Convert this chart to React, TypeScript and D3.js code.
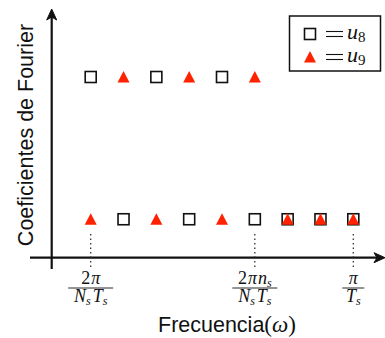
import * as d3 from "d3";

// Frequency index k (multiples of 2π/(N_s T_s))
const freqs = [1, 2, 3, 4, 5, 6, 7, 8, 9];
// Fourier coefficient magnitudes (arbitrary units)
const u8Values = [4.7, 1, 4.7, 1, 4.7, 1, 1, 1, 1];
const u9Values = [1, 4.7, 1, 4.7, 1, 4.7, 1, 1, 1];
// Ticks marked with dotted guides
const tickFreqs = [1, 6, 9];

const W = 385;
const H = 338;
const RED = "#ff2200";
const MATH = "'Liberation Serif', 'DejaVu Serif', serif";
const SANS = "'Liberation Sans', Arial, sans-serif";

function Square({ x, y, s = 11 }: { x: number; y: number; s?: number }) {
  return (
    <rect x={x - s / 2} y={y - s / 2} width={s} height={s} fill="white" stroke="#111" strokeWidth={1.6} />
  );
}

function Triangle({ x, y, s = 12 }: { x: number; y: number; s?: number }) {
  const h = s * 0.92;
  const pts = [
    [x, y - h / 2 - 0.5],
    [x + s / 2, y + h / 2],
    [x - s / 2, y + h / 2],
  ];
  return <polygon points={pts.map((p) => p.join(",")).join(" ")} fill={RED} />;
}

function TickLabel({ x, k }: { x: number; k: number }) {
  const fs = 18;
  const sub = 12;
  const num =
    k === 1 ? (
      <>
        <tspan fontStyle="normal">2</tspan>
        <tspan dx={1}>π</tspan>
      </>
    ) : k === 6 ? (
      <>
        <tspan fontStyle="normal">2</tspan>
        <tspan dx={1}>π</tspan>
        <tspan dx={1}>n</tspan>
        <tspan fontSize={sub} dy={3}>s</tspan>
      </>
    ) : (
      <tspan>π</tspan>
    );
  const den =
    k === 9 ? (
      <>
        <tspan>T</tspan>
        <tspan fontSize={sub} dy={3}>s</tspan>
      </>
    ) : (
      <>
        <tspan>N</tspan>
        <tspan fontSize={sub} dy={3}>s</tspan>
        <tspan dx={2} dy={-3}>T</tspan>
        <tspan fontSize={sub} dy={3}>s</tspan>
      </>
    );
  const half = k === 9 ? 11 : 22.5;
  return (
    <g fontFamily={MATH} fontStyle="italic" fontSize={fs} fill="#111">
      <text x={x} y={284} textAnchor="middle">{num}</text>
      <line x1={x - half} x2={x + half} y1={288} y2={288} stroke="#111" strokeWidth={0.9} />
      <text x={x} y={302} textAnchor="middle">{den}</text>
    </g>
  );
}

function LegendEq({ y, label }: { y: number; label: string }) {
  return (
    <g fill="#111">
      <line x1={326} x2={343} y1={y - 2.5} y2={y - 2.5} stroke="#111" strokeWidth={1.1} />
      <line x1={326} x2={343} y1={y + 2.5} y2={y + 2.5} stroke="#111" strokeWidth={1.1} />
      <text x={347} y={y + 5} fontFamily={MATH} fontSize={22}>
        <tspan fontStyle="italic">u</tspan>
        <tspan fontSize={15} dy={3}>{label}</tspan>
      </text>
    </g>
  );
}

export default function App() {
  const x = d3.scaleLinear().domain([1, 9]).range([90.7, 353.3]);
  const y = d3.scaleLinear().domain([0, 4.7]).range([257.7, 77]);

  const axisX = 51.7;
  const axisY = y(0);

  return (
    <div style={{ position: "fixed", left: 0, top: 0 }}>
      <svg width={W} height={H} style={{ display: "block", background: "white" }}>
        {/* axes */}
        <line x1={30} x2={380} y1={axisY} y2={axisY} stroke="#111" strokeWidth={2.2} />
        <path d={`M385,${axisY} L374,${axisY - 5} L377,${axisY} L374,${axisY + 5} Z`} fill="#111" stroke="#111" strokeWidth={1} />
        <line x1={axisX} x2={axisX} y1={14} y2={269} stroke="#111" strokeWidth={2.2} />
        <path d={`M${axisX},9 L${axisX - 5},20 L${axisX},17 L${axisX + 5},20 Z`} fill="#111" stroke="#111" strokeWidth={1} />

        {/* dotted guides */}
        {tickFreqs.map((k) => (
          <line key={k} x1={x(k)} x2={x(k)} y1={234} y2={268} stroke="#222" strokeWidth={1.2} strokeDasharray="1.5,3" />
        ))}

        {/* u8 squares */}
        {freqs.map((k, i) => (
          <Square key={`s${k}`} x={x(k)} y={y(u8Values[i])} />
        ))}
        {/* u9 triangles */}
        {freqs.map((k, i) => (
          <Triangle key={`t${k}`} x={x(k)} y={y(u9Values[i])} />
        ))}

        {/* tick labels */}
        {tickFreqs.map((k) => (
          <TickLabel key={k} x={x(k)} k={k} />
        ))}

        {/* axis titles */}
        <text x={158} y={332} fontFamily={SANS} fontSize={21.5} fill="#111">
          Frecuencia
          <tspan fontFamily={MATH} fontSize={23}>(</tspan>
          <tspan fontFamily={MATH} fontStyle="italic" fontSize={23}>ω</tspan>
          <tspan fontFamily={MATH} fontSize={23}>)</tspan>
        </text>
        <text
          transform="translate(33,135) rotate(-90)"
          textAnchor="middle"
          fontFamily={SANS}
          fontSize={21.5}
          fill="#111"
        >
          Coeficientes de Fourier
        </text>

        {/* legend */}
        <rect x={289.5} y={16} width={91} height={55} fill="white" stroke="#111" strokeWidth={1.5} />
        <Square x={310} y={34} />
        <Triangle x={310} y={57} />
        <LegendEq y={34} label="8" />
        <LegendEq y={57} label="9" />
      </svg>
    </div>
  );
}
